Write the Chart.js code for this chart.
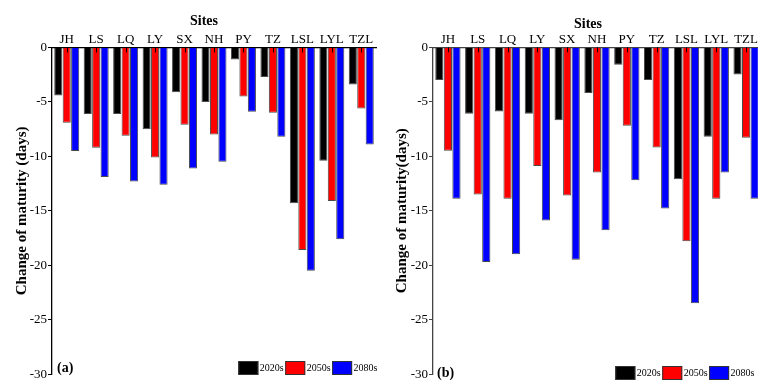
<!DOCTYPE html>
<html>
<head>
<meta charset="utf-8">
<script src="https://cdn.jsdelivr.net/npm/chart.js@4.4.1/dist/chart.umd.min.js"></script>
<style>
  html, body { margin: 0; padding: 0; background: #fff; overflow: hidden; width: 758px; height: 383px; }
  canvas { position: absolute; top: 0; }
  #chartA { left: 0; }
  #chartB { left: 380px; }
</style>
</head>
<body>
<canvas id="chartA" width="380" height="383"></canvas>
<canvas id="chartB" width="385" height="383"></canvas>
<script>
// Sites and change in maturity date (days) for three future periods
const sites = ['JH', 'LS', 'LQ', 'LY', 'SX', 'NH', 'PY', 'TZ', 'LSL', 'LYL', 'TZL'];
const periods = ['2020s', '2050s', '2080s'];
const periodColors = ['#000000', '#ff0000', '#0000ff'];
const yTickValues = [0, -5, -10, -15, -20, -25, -30];

// Panel (a)
const a2020s = [-4.4, -6.1, -6.1, -7.5, -4.1, -5.0, -1.1, -2.7, -14.3, -10.4, -3.4];
const a2050s = [-6.9, -9.2, -8.1, -10.1, -7.1, -8.0, -4.5, -6.0, -18.6, -14.1, -5.6];
const a2080s = [-9.5, -11.9, -12.3, -12.6, -11.1, -10.5, -5.9, -8.2, -20.5, -17.6, -8.9];

// Panel (b)
const b2020s = [-3.0, -6.1, -5.9, -6.1, -6.7, -4.2, -1.6, -3.0, -12.1, -8.2, -2.5];
const b2050s = [-9.5, -13.5, -13.9, -10.9, -13.6, -11.5, -7.2, -9.2, -17.8, -13.9, -8.3];
const b2080s = [-13.9, -19.7, -19.0, -15.9, -19.5, -16.8, -12.2, -14.8, -23.5, -11.5, -13.9];

const SERIF = '"Liberation Serif", "Times New Roman", serif';

// Inward category ticks, the "Sites" heading, panel tag and the in-plot legend
const panelDecor = {
  id: 'panelDecor',
  afterDraw(chart, args, opts) {
    const ctx = chart.ctx;
    const xs = chart.scales.x;
    const area = chart.chartArea;
    ctx.save();
    ctx.strokeStyle = '#000';
    ctx.lineWidth = 1;
    xs.ticks.forEach((t, i) => {
      const px = Math.round(xs.getPixelForTick(i)) + 0.5;
      ctx.beginPath();
      ctx.moveTo(px, area.top);
      ctx.lineTo(px, area.top + 5);
      ctx.stroke();
    });

    ctx.fillStyle = '#000';
    ctx.font = 'bold 14px ' + SERIF;
    ctx.textAlign = 'center';
    ctx.textBaseline = 'middle';
    ctx.fillText(opts.heading, opts.headingX, opts.headingY);

    ctx.textAlign = 'left';
    ctx.fillText(opts.tag, opts.tagX, opts.tagY);

    // legend
    ctx.font = '10px ' + SERIF;
    const boxW = 20, boxH = 14, gap = 1.5;
    const items = chart.data.datasets.map(ds => ({
      label: ds.label, color: ds.backgroundColor, w: ctx.measureText(ds.label).width
    }));
    const total = items.reduce((s, it) => s + boxW + gap + it.w + gap, 0);
    let x = opts.legendRight - total;
    const y = opts.legendTop;
    items.forEach(it => {
      ctx.fillStyle = it.color;
      ctx.fillRect(x, y, boxW, boxH);
      ctx.strokeStyle = '#333';
      ctx.lineWidth = 1;
      ctx.strokeRect(x + 0.5, y + 0.5, boxW - 1, boxH - 1);
      ctx.fillStyle = '#000';
      ctx.textBaseline = 'middle';
      ctx.fillText(it.label, x + boxW + gap, y + boxH / 2 + 0.5);
      x += boxW + gap + it.w + gap;
    });
    ctx.restore();
  }
};

function makePanel(canvasId, values, cfg) {
  return new Chart(document.getElementById(canvasId), {
    type: 'bar',
    data: {
      labels: sites,
      datasets: periods.map((p, i) => ({
        label: p,
        data: values[i],
        backgroundColor: periodColors[i],
        borderColor: '#4a4a4a',
        borderWidth: 1,
        borderSkipped: 'start',
        barPercentage: 0.96,
        categoryPercentage: 0.86
      }))
    },
    options: {
      responsive: false,
      animation: false,
      devicePixelRatio: 1,
      layout: { padding: { left: 0, right: cfg.padRight, top: 0, bottom: cfg.padBottom } },
      plugins: {
        legend: { display: false },
        title: { display: false },
        tooltip: { enabled: false },
        panelDecor: {
          heading: 'Sites', headingX: cfg.headingX, headingY: cfg.headingY,
          tag: cfg.tag, tagX: 57, tagY: cfg.tagY,
          legendRight: cfg.legendRight, legendTop: cfg.legendTop
        }
      },
      scales: {
        x: {
          position: 'top',
          z: 1,
          grid: { display: true, drawOnChartArea: false, drawTicks: false },
          border: { display: true, color: cfg.axisColor, width: 1.3 },
          ticks: { font: { family: SERIF, size: 13 }, color: '#000', padding: 0, maxRotation: 0, autoSkip: false },
          afterFit: s => { s.height = cfg.xHeight; }
        },
        y: {
          min: -30,
          max: 0,
          afterBuildTicks: s => { s.ticks = yTickValues.map(v => ({ value: v })); },
          ticks: { font: { family: SERIF, size: 13 }, color: '#000', padding: 1 },
          grid: { drawOnChartArea: false, drawTicks: true, tickLength: 4, color: cfg.axisColor, lineWidth: 1 },
          border: { display: true, color: cfg.axisColor, width: 1.3 },
          title: {
            display: true, text: cfg.yTitle, color: '#000',
            font: { family: SERIF, size: 15, weight: 'bold' },
            padding: { top: 13, bottom: 0 }
          },
          afterFit: s => { s.width = cfg.yWidth; }
        }
      }
    },
    plugins: [panelDecor]
  });
}

makePanel('chartA', [a2020s, a2050s, a2080s], {
  yTitle: 'Change of maturity (days)', tag: '(a)', tagY: 368,
  headingX: 204, headingY: 21,
  legendRight: 379, legendTop: 361,
  padRight: 4, padBottom: 8.7, xHeight: 47.5, yWidth: 52, axisColor: '#000'
});

makePanel('chartB', [b2020s, b2050s, b2080s], {
  yTitle: 'Change of maturity(days)', tag: '(b)', tagY: 373,
  headingX: 208, headingY: 24.5,
  legendRight: 376, legendTop: 366,
  padRight: 4, padBottom: 3.7, xHeight: 47.3, yWidth: 53, axisColor: '#444'
});
</script>
</body>
</html>
